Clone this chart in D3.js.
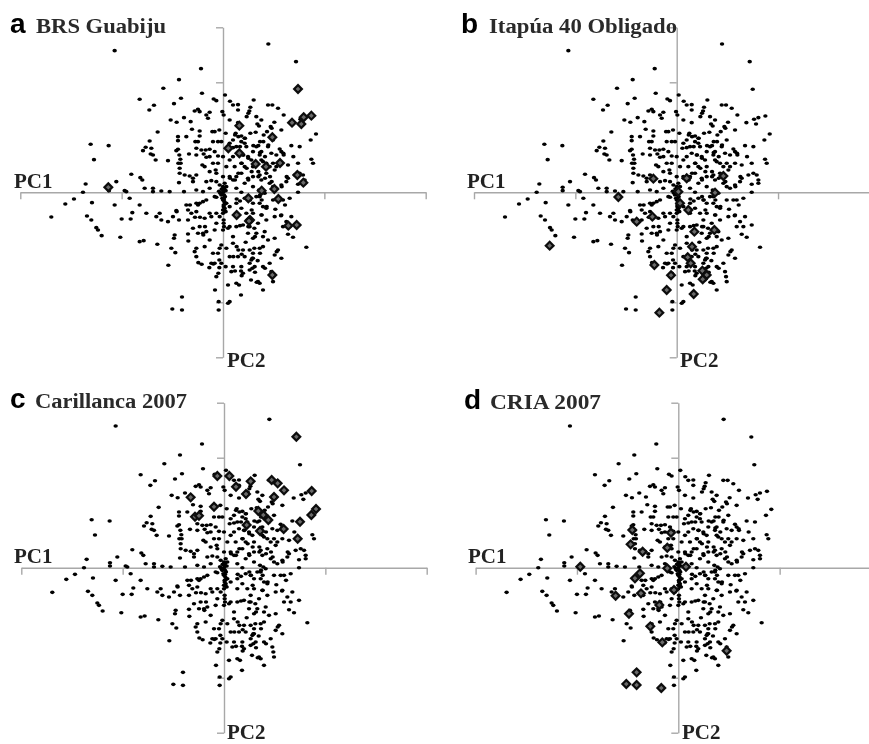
<!DOCTYPE html>
<html><head><meta charset="utf-8">
<script src="https://cdn.jsdelivr.net/npm/d3@7/dist/d3.min.js"></script>
<style>html,body{margin:0;padding:0;background:#fff}svg{display:block}</style>
</head><body><div id="chart"></div>
<script>
const panelLetters = ["a","b","c","d"];
const panelTitles = ["BRS Guabiju","Itapúa 40 Obligado","Carillanca 2007","CRIA 2007"];
const axisNames = ["PC1","PC2"];
const pc1Ticks = [-608,-304,304,608];
const pc2Ticks = [-495,-330,330,495];

const scores = [
[136,445],[-325,425],[219,392],[-66,371],[-132,338],[-179,312],[228,309],[-63,297],[6,292],[-250,279],[-126,282],[-28,280],[-20,275],[92,277],[21,273],[-207,261],[-147,266],[30,262],[45,263],[-221,247],[-75,249],[-85,244],[135,262],[148,262],[165,252],[82,255],[79,244],[-2,242],[2,232],[-40,240],[-50,232],[-70,242],[45,247],[266,229],[245,224],[232,219],[238,205],[209,209],[182,232],[-157,217],[-139,210],[-117,224],[-97,212],[-45,222],[71,227],[100,227],[115,217],[45,209],[20,217],[108,199],[143,197],[132,182],[175,187],[279,175],[263,157],[-196,181],[-93,189],[-70,184],[-32,182],[-25,182],[-11,187],[8,177],[38,177],[55,169],[65,162],[82,177],[98,180],[122,172],[111,152],[150,157],
[-220,154],[-397,144],[-343,140],[-240,125],[-232,135],[-215,132],[-217,115],[-210,112],[-387,98],[-202,97],[-165,95],[-135,167],[-110,167],[-135,155],[-83,152],[-75,152],[-70,169],[-135,129],[-140,125],[-131,112],[-128,99],[-134,87],[-127,87],[-130,72],[-102,115],[-80,112],[-58,115],[-52,127],[-40,129],[-25,122],[-15,109],[0,107],[17,132],[30,134],[40,137],[-5,152],[-30,152],[-15,152],[-50,105],[-62,82],[-40,62],[-22,67],[-55,77],[45,117],[60,112],[55,87],[65,77],[75,107],[85,97],[110,112],[115,97],[130,87],[150,87],[160,112],[175,122],[182,112],[170,130],[205,140],[230,137],[265,99],[270,87],[225,87],[195,82],
[20,97],[30,107],[100,137],[115,122],[135,137],[145,117],[90,122],[70,137],[65,147],[55,152],[30,157],[20,147],[90,77],[120,92],[175,87],[140,77],[160,77],[-15,87],[10,77],[35,77],[-80,132],[-65,127],[-40,107],[-30,87],
[-275,54],[-248,44],[-242,37],[-320,32],[-412,25],[-342,15],[-342,5],[-420,0],[-295,5],[-290,2],[-235,12],[-210,12],[-210,2],[-185,4],[-160,2],[-117,2],[-132,29],[-115,52],[-100,49],[-90,42],[-90,32],[-50,32],[-35,35],[-20,32],[-10,22],[0,7],[10,17],[20,47],[30,37],[40,47],[75,42],[90,47],[110,52],[130,57],[155,67],[150,17],[160,12],[175,22],[190,32],[195,42],[215,52],[230,57],[240,52],[245,37],[245,27],[225,24],[225,0],
[-20,57],[0,47],[55,57],[65,27],[90,17],[115,37],[140,27],[40,12],[55,0],[-40,12],[-60,2],[-80,7],[0,17],[5,27],[0,0],[108,7],[118,2],[125,-3],[110,-13],[-80,52],[-130,57],
[-473,-35],[-447,-20],[-393,-31],[-325,-38],[-280,-18],[-250,-38],[-515,-74],[-408,-71],[-395,-83],[-304,-80],[-277,-80],[-272,-61],[-230,-63],[-190,-63],[-200,-73],[-185,-83],[-165,-88],[-140,-55],[-150,-73],[-132,-83],[-105,-53],[-110,-38],[-80,-33],[-75,-38],[-60,-28],[-50,-23],[-95,-63],[-40,-63],[-55,-78],[-25,-13],[-20,-15],[0,-23],[10,-33],[5,-48],[20,-43],[40,-33],[65,-18],[80,-23],[100,-13],[110,-33],[120,-43],[130,-48],[170,-23],[180,-23],[200,-18],[150,-23],[70,-63],[90,-63],[115,-68],[80,-83],[105,-93],[130,-83],[155,-73],[190,-88],[180,-103],[200,-103],[225,-98],[195,-126],[210,-135],[250,-165],
[-380,-106],[-375,-113],[-364,-130],[-308,-135],[-250,-148],[-238,-145],[-197,-156],[-145,-128],[-147,-138],[-105,-125],[-90,-108],[-70,-103],[-60,-123],[-50,-118],[-25,-113],[0,-113],[15,-108],[2,-83],[2,-93],[40,-103],[60,-98],[75,-123],[90,-138],[125,-118],[135,-143],[155,-138],[-155,-168],[-143,-181],[-164,-219],[-85,-178],[-80,-193],[-55,-163],[-5,-158],[-10,-168],[-15,-183],[-35,-213],[-5,-213],[110,-168],[120,-163],[90,-198],[80,-213],[165,-173],[155,-188],[175,-198],[145,-238],[148,-253],[150,-268],[15,-278],[40,-273],[60,-243],[105,-268],[120,-293],[20,-328],[15,-333],[-123,-314],[-152,-350],[-123,-353],[-13,-353],[-13,-328],
[30,-223],[55,-223],[95,-223],[65,-193],[20,-193],[25,-238],[110,-273],[60,-173],[85,-203],[-20,-93],[-75,-123],[-35,-73],[-20,-63],[40,-63],[55,-48],[90,-33],[-105,-83],[-80,-58],[-10,-73],[-70,-33],[0,-63],[2,-38],[-2,-18],[3,-8],[6,-13],[-5,-8],[0,-53],[3,-103],[157,-51],[175,-68],[205,-73],[80,-103],[100,-123],[120,-133],[20,-103],[30,-133],[30,-153],[-80,-168],[-40,-143],[-30,-183],[-25,-213],[10,-168],[80,-173],[90,-183],[45,-193],[140,-213],[120,-223],[-20,-253],[80,-233],
[-3,-3],[3,-20],[4,-28],[6,-35],[2,-43],[5,-55],[8,-58],[-4,10],[3,12],[8,5],[-8,-3],[-12,3],
[41,-20],[51,-26],[76,-13],[81,-23],[111,-8],[116,-23],[131,-43],[186,-38],[86,-53],[116,-68],[174,-70],[94,-108],[51,-100],[76,-103],[96,-133],[68,-150],[41,-163],[46,-173],[94,-168],[111,-183],[161,-178],[31,-193],[56,-186],[88,-198],[104,-205],[8,-223],[36,-236],[54,-236],[88,-228],[96,-240],[126,-228],[56,-250],[84,-263],[101,-270],[48,-278],[54,-308],
[154,210],[103,205],[76,237],[146,192],[121,152],[106,140],[91,140],[136,142],[181,117],[211,107],[141,47],[146,32],[191,47],[176,17],[76,37],[106,47],[126,42],[36,37],[21,42],[46,57],[56,87],[71,72],[86,62],[106,62],[126,107],[111,119],[76,102],[61,112],[51,137],[36,172],[46,167],[66,162],
[-74,-211],[-64,-216],[-41,-226],[-29,-215],[-11,-203],[-11,-226],[-14,-243],[-24,-293],[-59,-128],[-104,-146],[-54,-103],[-69,-75],[-84,-75],[-139,-58],[-99,-38]
];

const highlightA = [[225,310],[207,209],[235,205],[242,225],[265,230],[49,200],[148,165],[16,132],[49,117],[98,85],[129,77],[171,88],[223,52],[241,29],[154,10],[116,5],[41,-68],[81,-83],[78,-86],[196,-100],[221,-98],[148,-248],[166,-20],[76,-18],[-344,15]];
const highlightB = [[-175,-14],[-381,-160],[-70,41],[-73,-73],[-120,-88],[5,2],[10,-33],[35,-53],[140,49],[115,-1],[53,-118],[113,-113],[46,-163],[33,-195],[42,-213],[-67,-218],[-17,-249],[77,-235],[90,-248],[78,-261],[-30,-293],[51,-305],[-52,-361],[30,42]];
const highlightC = [[217,393],[-20,275],[16,275],[36,243],[80,259],[66,221],[143,263],[161,253],[180,232],[150,212],[263,230],[276,176],[262,158],[228,138],[221,87],[179,116],[133,143],[118,158],[103,170],[108,110],[68,128],[-30,183],[-100,211],[-87,153],[-75,156]];
const highlightD = [[-138,113],[-22,105],[-143,70],[-33,60],[-107,48],[-294,3],[-33,-2],[23,3],[-115,-17],[-130,-32],[-188,-84],[-112,-77],[-13,-67],[-57,-112],[-148,-138],[-84,-176],[-48,-224],[145,-249],[-125,-314],[-156,-349],[-125,-352],[-51,-361]];
const highlights = [highlightA,highlightB,highlightC,highlightD];

const layout = [
  {ox:223,  oy:192.3, letterX:10,  letterY:33,  titleX:36,  titleY:33,  titleW:130, pc1X:14,  pc1Y:188, pc2X:227, pc2Y:367},
  {ox:676.7,oy:192.3, letterX:461, letterY:33,  titleX:489, titleY:33,  titleW:188, pc1X:467, pc1Y:188, pc2X:680, pc2Y:367},
  {ox:224,  oy:567.7, letterX:10,  letterY:408, titleX:35,  titleY:408, titleW:152, pc1X:14,  pc1Y:563, pc2X:227, pc2Y:739},
  {ox:678.3,oy:567.7, letterX:464, letterY:409, titleX:490, titleY:409, titleW:111, pc1X:468, pc1Y:563, pc2X:682, pc2Y:739}
];

const W = 869, H = 744, halfX = 202.7, halfY = 165;
const svg = d3.select("#chart").append("svg").attr("width",W).attr("height",H).attr("viewBox",[0,0,W,H]);
svg.append("defs").append("filter").attr("id","soft").attr("x","-5%").attr("y","-5%").attr("width","110%").attr("height","110%")
   .append("feGaussianBlur").attr("stdDeviation",0.4);
const root = svg.append("g").attr("filter","url(#soft)");

layout.forEach((L,i)=>{
  const x = d3.scaleLinear().domain([-608,608]).range([L.ox-halfX,L.ox+halfX]);
  const y = d3.scaleLinear().domain([-495,495]).range([L.oy+halfY,L.oy-halfY]);
  const g = root.append("g");

  const xAxis = g.append("g").attr("transform",`translate(0,${y(0)})`)
    .call(d3.axisBottom(x).tickValues(pc1Ticks).tickSize(7).tickSizeOuter(0).tickFormat(""));
  const yAxis = g.append("g").attr("transform",`translate(${x(0)},0)`)
    .call(d3.axisLeft(y).tickValues(pc2Ticks).tickSize(7).tickSizeOuter(0).tickFormat(""));
  [xAxis,yAxis].forEach(a=>{a.selectAll("path,line").attr("stroke","#a8a8a8").attr("stroke-width",1.4);});

  g.append("g").selectAll("ellipse").data(scores).join("ellipse")
    .attr("cx",d=>x(d[0])).attr("cy",d=>y(d[1])).attr("rx",2.2).attr("ry",1.8).attr("fill","#000");

  g.append("g").selectAll("path").data(highlights[i]).join("path")
    .attr("d",d3.symbol().type(d3.symbolSquare).size(30))
    .attr("transform",d=>`translate(${x(d[0])},${y(d[1])}) rotate(45)`)
    .attr("fill","#6a6a6a").attr("stroke","#0d0d0d").attr("stroke-width",2.2);

  g.append("text").attr("x",L.letterX).attr("y",L.letterY).text(panelLetters[i])
    .attr("font-family","'Liberation Sans',Arial,sans-serif").attr("font-weight","bold").attr("font-size",28).attr("fill","#000");
  g.append("text").attr("x",L.titleX).attr("y",L.titleY).text(panelTitles[i])
    .attr("textLength",L.titleW).attr("lengthAdjust","spacingAndGlyphs")
    .attr("font-family","'Liberation Serif','Times New Roman',serif").attr("font-weight","bold").attr("font-size",20).attr("fill","#2b2b2b");
  g.append("text").attr("x",L.pc1X).attr("y",L.pc1Y).text(axisNames[0])
    .attr("font-family","'Liberation Serif','Times New Roman',serif").attr("font-weight","bold").attr("font-size",21).attr("fill","#222");
  g.append("text").attr("x",L.pc2X).attr("y",L.pc2Y).text(axisNames[1])
    .attr("font-family","'Liberation Serif','Times New Roman',serif").attr("font-weight","bold").attr("font-size",21).attr("fill","#222");
});
</script></body></html>
